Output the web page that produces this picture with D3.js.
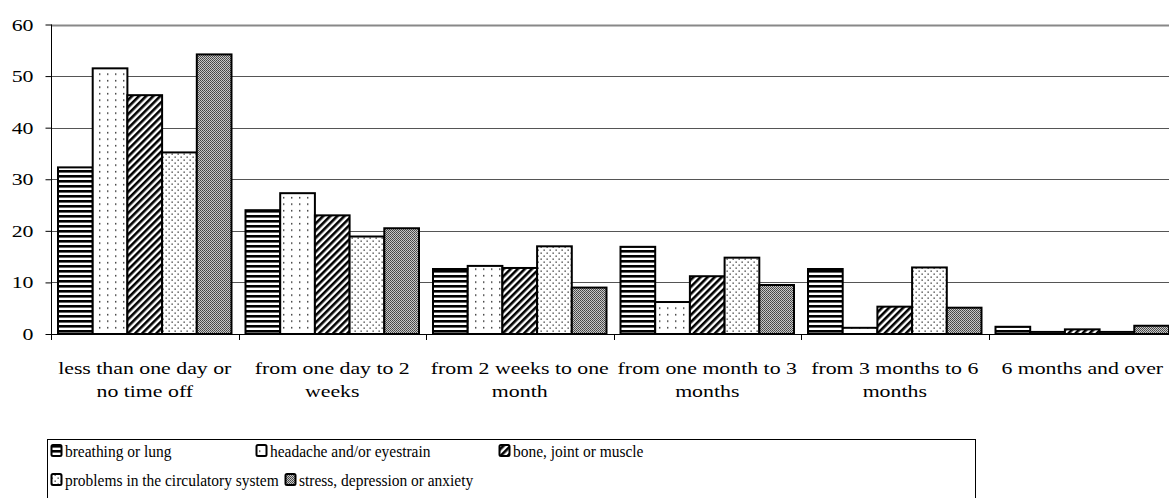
<!DOCTYPE html>
<html><head><meta charset="utf-8">
<script src="https://cdn.jsdelivr.net/npm/d3@7"></script>
<style>body{margin:0;background:#fff}svg{display:block}</style>
</head><body>
<svg id="c" width="1169" height="498"></svg>
<script>
const categories = [["less than one day or","no time off"],["from one day to 2","weeks"],["from 2 weeks to one","month"],["from one month to 3","months"],["from 3 months to 6","months"],["6 months and over"]];
const seriesNames = ["breathing or lung","headache and/or eyestrain","bone, joint or muscle","problems in the circulatory system","stress, depression or anxiety"];
const breathing = [32.3, 24.0, 12.6, 16.9, 12.6, 1.4];
const headache = [51.5, 27.3, 13.2, 6.2, 1.2, 0.4];
const bone = [46.3, 23.0, 12.8, 11.2, 5.3, 0.9];
const circulatory = [35.2, 18.9, 17.0, 14.8, 12.9, 0.4];
const stress = [54.2, 20.5, 9.0, 9.5, 5.1, 1.6];
const yTicks = [0,10,20,30,40,50,60];
const seriesValues = [breathing, headache, bone, circulatory, stress];

(function(){
const svg = d3.select("#c");
const FS = 17, LFS = 16;
function measure(fam, s, fs){
  const t = svg.append("text").style("font-family",fam).style("font-size",(fs||FS)+"px").text(s);
  const w = t.node().getComputedTextLength(); t.remove(); return w;
}
const probe = "less than one day or";
const base = measure("monospace", probe);
const cands = ["Liberation Serif","Tinos","Times New Roman","Nimbus Roman","FreeSerif","DejaVu Serif"];
let FONT = "serif";
for (const c of cands){ if (Math.abs(measure(`'${c}', monospace`, probe)-base) > 0.5){ FONT = `'${c}', serif`; break; } }
const SX = 173.4 / measure(FONT, probe);
const LSX = 214 / measure(FONT, seriesNames[3], LFS);

const defs = svg.append("defs");
const patIds = ["p0","p1","p2","p3","p4"];
let p = defs.append("pattern").attr("id","p0").attr("patternUnits","userSpaceOnUse").attr("width",6).attr("height",5);
p.append("rect").attr("width",6).attr("height",5).attr("fill","#fff");
p.append("rect").attr("width",6).attr("height",2.6).attr("fill","#000");
p = defs.append("pattern").attr("id","p1").attr("patternUnits","userSpaceOnUse").attr("width",8).attr("height",6.5);
p.append("rect").attr("width",8).attr("height",6.5).attr("fill","#fff");
p.append("rect").attr("x",3).attr("y",2).attr("width",1.4).attr("height",1.4).attr("fill","#222");
p = defs.append("pattern").attr("id","p2").attr("patternUnits","userSpaceOnUse").attr("width",5).attr("height",5).attr("patternTransform","rotate(45)");
p.append("rect").attr("width",5).attr("height",5).attr("fill","#fff");
p.append("rect").attr("width",2.6).attr("height",5).attr("fill","#000");
p = defs.append("pattern").attr("id","p3").attr("patternUnits","userSpaceOnUse").attr("width",6).attr("height",6);
p.append("rect").attr("width",6).attr("height",6).attr("fill","#fff");
p.append("rect").attr("x",0.5).attr("y",0.5).attr("width",1.3).attr("height",1.3).attr("fill","#333");
p.append("rect").attr("x",3.5).attr("y",3.5).attr("width",1.3).attr("height",1.3).attr("fill","#333");
p = defs.append("pattern").attr("id","p4").attr("patternUnits","userSpaceOnUse").attr("width",2).attr("height",2);
p.append("rect").attr("width",2).attr("height",2).attr("fill","#c8c8c8");
p.append("rect").attr("width",1).attr("height",1).attr("fill","#444");
p.append("rect").attr("x",1).attr("y",1).attr("width",1).attr("height",1).attr("fill","#555");

function txt(parent, x, y, s, anchor, maxW, fs, scx){
  fs = fs || FS; scx = scx || SX;
  const t = parent.append("text").attr("text-anchor",anchor||"start").style("font-family",FONT).style("font-size",fs+"px")
    .attr("fill","#000").text(s);
  let sx = scx;
  const w = t.node().getComputedTextLength()*scx;
  if (maxW && w > maxW) sx = scx*maxW/w;
  t.attr("transform",`translate(${x},${y}) scale(${sx},1)`);
  t.property("__w", Math.min(w, maxW||w));
  return t;
}

const L = 51, R = 1176, T = 24.5, B = 334;
const xOuter = d3.scaleBand().domain(d3.range(categories.length)).range([L,R]);
const groupW = 173.5;
const xs = d3.scaleBand().domain(d3.range(seriesNames.length)).range([0,groupW]);
const y = d3.scaleLinear().domain([0,60]).range([B,T]);

svg.append("g").selectAll("line").data(yTicks.filter(d=>d>0)).join("line")
  .attr("x1",L).attr("x2",1169).attr("y1",d=>Math.round(y(d))+0.5).attr("y2",d=>Math.round(y(d))+0.5)
  .attr("stroke",d=>d===60?"#888":"#555").attr("stroke-width",d=>d===60?2:1);

const g = svg.append("g");
seriesValues.forEach((vals,si)=>{
  g.append("g").selectAll("rect").data(vals).join("rect")
    .attr("x",(d,i)=>xOuter(i)+(xOuter.bandwidth()-groupW)/2+xs(si))
    .attr("y",d=>y(d))
    .attr("width",xs.bandwidth())
    .attr("height",d=>B-y(d))
    .attr("fill",`url(#${patIds[si]})`)
    .attr("stroke","#000").attr("stroke-width",2);
});

const ya = svg.append("g").attr("transform",`translate(${L+0.5},0)`)
  .call(d3.axisLeft(y).tickValues(yTicks).tickSize(6).tickFormat(""));
ya.select(".domain").attr("stroke","#000").attr("d",`M0,${T}V${B}`);
ya.selectAll(".tick line").attr("stroke","#000");
yTicks.forEach(v=>txt(svg, 33.5, y(v)+6, String(v), "end"));

svg.append("line").attr("x1",L).attr("x2",1169).attr("y1",B+0.5).attr("y2",B+0.5).attr("stroke","#000");
svg.append("g").selectAll("line").data(d3.range(categories.length+1)).join("line")
  .attr("x1",i=>Math.round(L+i*xOuter.bandwidth())+0.5).attr("x2",i=>Math.round(L+i*xOuter.bandwidth())+0.5)
  .attr("y1",B).attr("y2",B+6).attr("stroke","#000");
categories.forEach((lines,i)=>{
  lines.forEach((s,j)=>txt(svg, xOuter(i)+xOuter.bandwidth()/2, 374+j*23, s, "middle", 184));
});

const lg = svg.append("g");
lg.append("rect").attr("x",47.5).attr("y",439.5).attr("width",928).attr("height",70).attr("fill","#fff").attr("stroke","#000");
const ly = [457,486];
function entry(i, cx, cy){
  lg.append("rect").attr("x",cx+1.5).attr("y",cy-12).attr("width",10).attr("height",11).attr("rx",1.5)
    .attr("fill",`url(#${patIds[i]})`).attr("stroke","#000").attr("stroke-width",2);
  return txt(lg, cx+15, cy, seriesNames[i], "start", null, LFS, LSX).property("__w");
}
entry(0, 50, ly[0]);
entry(1, 255, ly[0]);
entry(2, 498, ly[0]);
const w3 = entry(3, 50, ly[1]);
entry(4, 50+15+w3+5, ly[1]);
})();
</script>
</body></html>
